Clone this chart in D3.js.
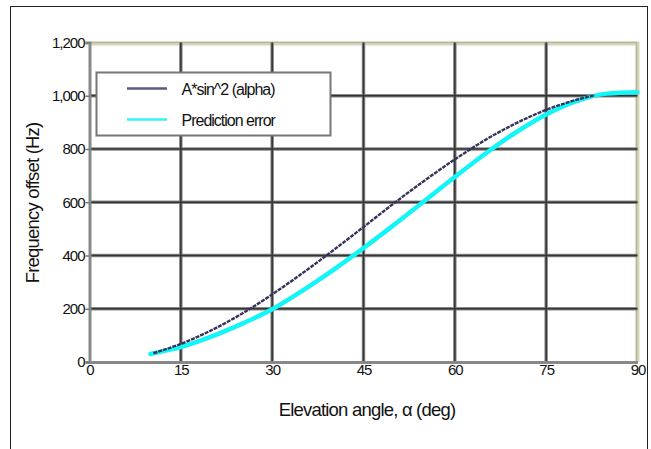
<!DOCTYPE html>
<html>
<head>
<meta charset="utf-8">
<script src="https://cdn.jsdelivr.net/npm/d3@7"></script>
<style>
  html, body { margin: 0; padding: 0; background: #fff; }
  svg { display: block; font-family: "Liberation Sans", Arial, sans-serif; }
</style>
</head>
<body>
<svg id="chart" width="651" height="449"></svg>
<script>
// ---- data ----
const seriesNames = ["A*sin^2 (alpha)", "Prediction error"];
const modelAngles = [10.5, 12, 15, 20, 25, 30, 35, 40, 45, 50, 55, 60, 65, 70, 75, 80, 83];
const modelValues = [33, 44, 68, 119, 181, 254, 334, 419, 507, 596, 681, 761, 834, 896, 947, 985, 1002];
const predAngles  = [10, 12, 15, 20, 25, 30, 35, 40, 45, 50, 55, 60, 65, 70, 75, 80, 85, 90];
const predValues  = [30, 40, 56, 95, 143, 198, 268, 345, 428, 515, 605, 695, 782, 862, 930, 980, 1008, 1013];
const xTicks = [0, 15, 30, 45, 60, 75, 90];
const yTicks = [0, 200, 400, 600, 800, 1000, 1200];
const xTitle = "Elevation angle, \u03B1 (deg)";
const yTitle = "Frequency offset (Hz)";

(function () {
const svg = d3.select("#chart");
const pL = 89.5, pR = 637.5, pT = 42.5, pB = 362;
const x = d3.scaleLinear().domain([0, 90]).range([pL, pR]);
const y = d3.scaleLinear().domain([0, 1200]).range([pB, pT]);

// outer frame
svg.append("rect").attr("x", 10.5).attr("y", 6.5).attr("width", 637).attr("height", 460)
  .attr("fill", "none").attr("stroke", "#222").attr("stroke-width", 1);

// plot frame top/right (khaki) with soft shadow
svg.append("path")
  .attr("d", `M${pL},${pT + 1} H${pR} V${pB}`)
  .attr("fill", "none").attr("stroke", "#d6d6be").attr("stroke-width", 4);
svg.append("path")
  .attr("d", `M${pL},${pT} H${pR - 1} V${pB}`)
  .attr("fill", "none").attr("stroke", "#b8b898").attr("stroke-width", 1.5);

// gridlines
const grid = svg.append("g");
const gx = xTicks.filter(d => d > 0 && d < 90);
const gy = yTicks.filter(d => d > 0 && d < 1200);
[["#8a8a8a", 3.5], ["#333", 1.5]].forEach(([c, w]) => {
  grid.append("g").selectAll("line").data(gx).join("line")
    .attr("x1", d => x(d)).attr("x2", d => x(d)).attr("y1", pT).attr("y2", pB)
    .attr("stroke", c).attr("stroke-width", w);
  grid.append("g").selectAll("line").data(gy).join("line")
    .attr("x1", pL).attr("x2", pR).attr("y1", d => y(d)).attr("y2", d => y(d))
    .attr("stroke", c).attr("stroke-width", w);
});

// axes
const fmt = d3.format(",");
const yAxis = svg.append("g").attr("transform", `translate(${pL},0)`)
  .call(d3.axisLeft(y).tickValues(yTicks).tickFormat(fmt).tickSize(4).tickPadding(1));
const xAxis = svg.append("g").attr("transform", `translate(0,${pB})`)
  .call(d3.axisBottom(x).tickValues(xTicks).tickSize(0).tickPadding(2));
[yAxis, xAxis].forEach(a => {
  a.select(".domain").attr("stroke", "#888").attr("stroke-width", 3);
  a.selectAll(".tick line").attr("stroke", "#777").attr("stroke-width", 1.5);
  a.selectAll("text").attr("fill", "#111").attr("font-size", 15)
    .attr("font-family", "'Liberation Sans', Arial, sans-serif").attr("letter-spacing", -1);
});

// lines
const line = d3.line().curve(d3.curveMonotoneX);
const predPts = predAngles.map((a, i) => [x(a), y(predValues[i])]);
const modelPts = modelAngles.map((a, i) => [x(a), y(modelValues[i])]);
svg.append("path").attr("d", line(predPts)).attr("fill", "none")
  .attr("stroke", "#22eeee").attr("stroke-width", 4.5).attr("stroke-linecap", "round");
svg.append("path").attr("d", line(predPts)).attr("fill", "none")
  .attr("stroke", "#00ffff").attr("stroke-width", 2).attr("stroke-linecap", "round");
svg.append("path").attr("d", line(modelPts)).attr("fill", "none")
  .attr("stroke", "#35345c").attr("stroke-width", 2.4).attr("stroke-dasharray", "4,1");

// axis titles
svg.append("text").attr("x", 367).attr("y", 416).attr("text-anchor", "middle")
  .attr("font-size", 18.5).attr("letter-spacing", -0.8).attr("fill", "#111").text(xTitle);
svg.append("text").attr("transform", `translate(39,203) rotate(-90)`).attr("text-anchor", "middle")
  .attr("font-size", 18.5).attr("letter-spacing", -0.8).attr("fill", "#111").text(yTitle);

// legend
const lg = svg.append("g");
lg.append("rect").attr("x", 96.5).attr("y", 72.5).attr("width", 234).attr("height", 63)
  .attr("fill", "#fff").attr("stroke", "#777").attr("stroke-width", 2);
const lgColors = ["#5c5b80", "#33f4f4"];
seriesNames.forEach((name, i) => {
  const yy = 88.5 + i * 31;
  lg.append("line").attr("x1", 127).attr("x2", 167).attr("y1", yy).attr("y2", yy)
    .attr("stroke", lgColors[i]).attr("stroke-width", 2.5);
  lg.append("text").attr("x", 181.5).attr("y", yy + 6.5).attr("font-size", 16)
    .attr("letter-spacing", -1).attr("fill", "#111").text(name);
});
})();
</script>
</body>
</html>
